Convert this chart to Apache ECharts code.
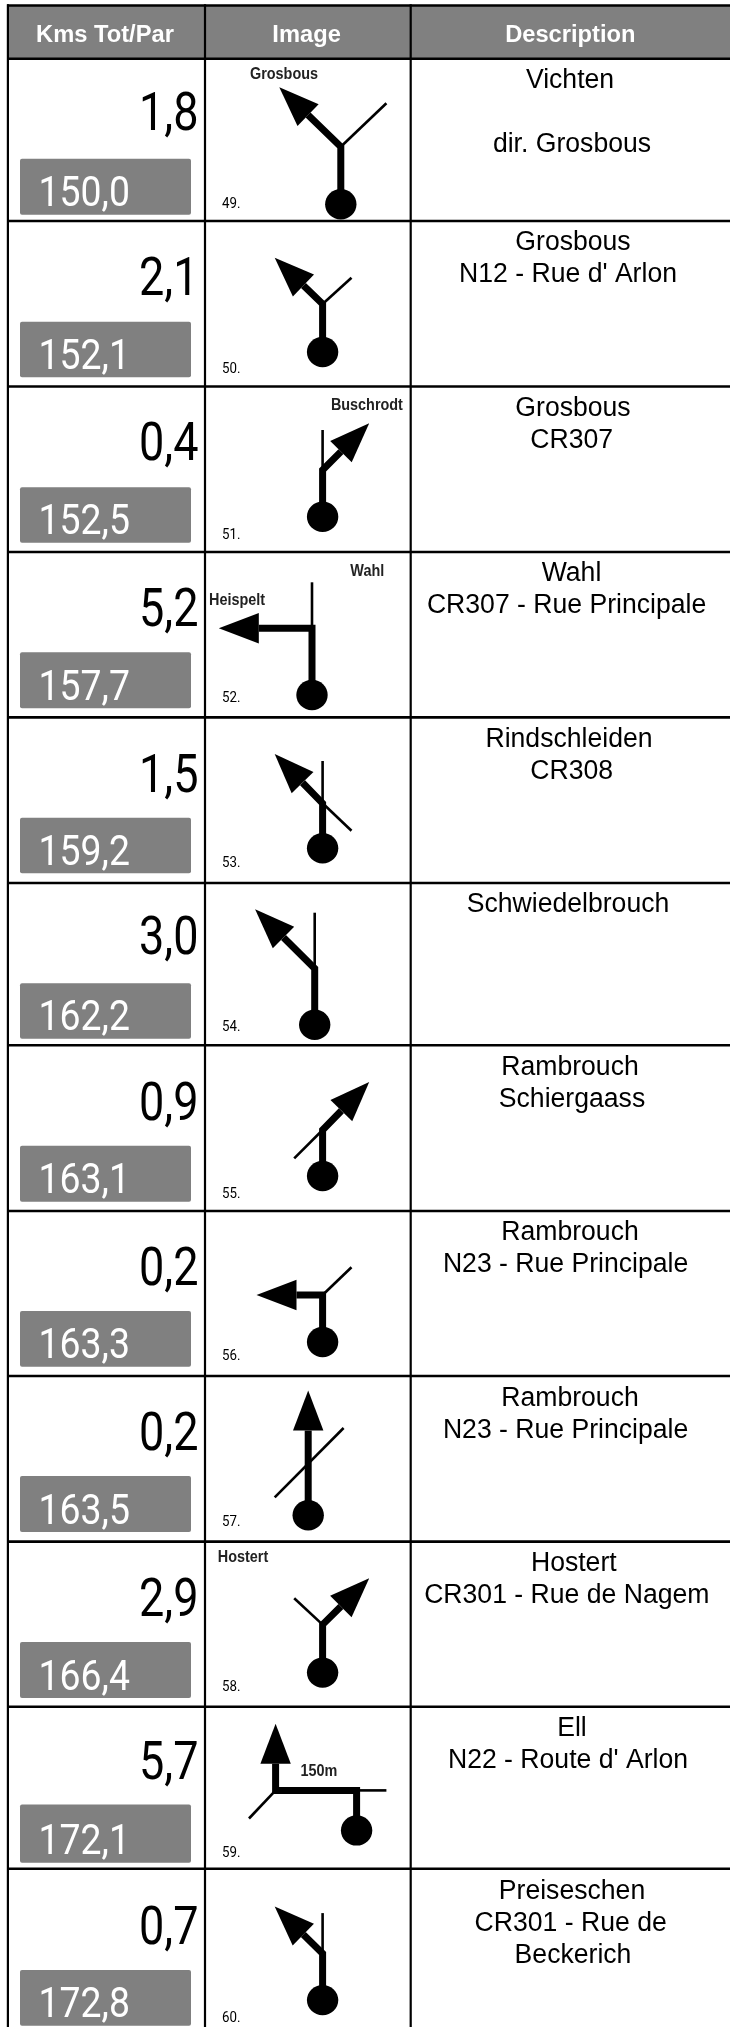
<!DOCTYPE html>
<html>
<head>
<meta charset="utf-8">
<style>html,body{margin:0;padding:0;background:#fff}#c{width:730px;height:2027px}</style>
<script src="https://cdn.jsdelivr.net/npm/echarts@6/dist/echarts.min.js"></script>
</head>
<body>
<div id="c"></div>
<script>
// ---- values ----
const headers = ['Kms Tot/Par', 'Image', 'Description'];
const kmPartial = [1.8, 2.1, 0.4, 5.2, 1.5, 3.0, 0.9, 0.2, 0.2, 2.9, 5.7, 0.7];
const kmTotal = [150.0, 152.1, 152.5, 157.7, 159.2, 162.2, 163.1, 163.3, 163.5, 166.4, 172.1, 172.8];
const imageNumbers = [49, 50, 51, 52, 53, 54, 55, 56, 57, 58, 59, 60];
const descriptions = [
  ['Vichten', '', 'dir. Grosbous'],
  ['Grosbous', "N12 - Rue d' Arlon"],
  ['Grosbous', 'CR307'],
  ['Wahl', 'CR307 - Rue Principale'],
  ['Rindschleiden', 'CR308'],
  ['Schwiedelbrouch'],
  ['Rambrouch', 'Schiergaass'],
  ['Rambrouch', 'N23 - Rue Principale'],
  ['Rambrouch', 'N23 - Rue Principale'],
  ['Hostert', 'CR301 - Rue de Nagem'],
  ['Ell', "N22 - Route d' Arlon"],
  ['Preiseschen', 'CR301 - Rue de', 'Beckerich']
];
const signTexts = ['Grosbous', 'Buschrodt', 'Wahl', 'Heispelt', 'Hostert', '150m'];

// ---- layout, in axis units ----
const columnEdges = [7.9, 205, 410.7];
const rowEdges = [5.5, 58.7, 221, 386.5, 552, 717.4, 883, 1045.3, 1211, 1376, 1541.6, 1706.7, 1868.7];
const partialBaselines = [128, 293.3, 458.3, 624, 790, 952.3, 1118.3, 1283.3, 1448.5, 1614, 1777.7, 1941.9];
const boxTops = [158.7, 321.7, 487.3, 652.3, 817.7, 983.3, 1145.7, 1311, 1476, 1642, 1804.5, 1970];
const boxBottoms = [214.7, 377.3, 542.7, 708.3, 873.3, 1038.7, 1201.7, 1366.7, 1532, 1698, 1862.8, 2025.7];
const numberBaselines = [208.3, 373, 539, 701.7, 866.7, 1031.3, 1197.7, 1360, 1526, 1691, 1856.8, 2021.8];
const descFirstCentres = [80.5, 243, 408.5, 573.5, 739.5, 904.5, 1067.5, 1232.5, 1398.5, 1563.5, 1728.5, 1891.5];
const descCentresX = [
  [570, 0, 572], [573, 568], [573, 571.7], [571.5, 566.6], [569, 571.7], [568],
  [570, 572], [570, 565.6], [570, 565.6], [573.8, 566.8], [572, 568], [572, 570.7, 573]
];
const signSpots = [[284, 75], [366.9, 406], [367.3, 572], [237, 601], [243, 1557.5], [318.9, 1772]];
const glyphs = [
  {dot:[340.8,204.3], path:[[0,-57.6],[-61.5,-117]], thin:[[[0,-57.6],[45.6,-101]]]},
  {dot:[322.6,352], path:[[0,-48],[-47.9,-94.3]], thin:[[[0,-48],[28.9,-74.3]]]},
  {dot:[322.6,516.7], path:[[0,-46.7],[46.6,-93.4]], thin:[[[0,-46.7],[0,-86.7]]]},
  {dot:[312,695], path:[[0,-66.7],[-93.2,-66.7]], thin:[[[0,-66.7],[0,-112.7]]]},
  {dot:[322.6,848.3], path:[[0,-45],[-47.9,-94.3]], thin:[[[0,-45],[0,-87.3]],[[0,-45],[28.9,-17.6]]]},
  {dot:[314.7,1024.7], path:[[0,-56.3],[-59.6,-115.4]], thin:[[[0,-56.3],[0,-112]]]},
  {dot:[322.6,1176], path:[[0,-46],[46.6,-94]], thin:[[[0,-46],[-28.4,-17.7]]]},
  {dot:[322.6,1342], path:[[0,-47],[-66.1,-47]], thin:[[[0,-47],[28.9,-74.7]]]},
  {dot:[308.2,1515.3], path:[[0,-124.7]], thin:[[[-33.5,-17.9],[35.4,-87.3]]]},
  {dot:[322.6,1672.6], path:[[0,-48],[46.6,-94.4]], thin:[[[0,-48],[-28.4,-74.4]]]},
  {dot:[356.6,1830.4], path:[[0,-40],[-81,-40],[-81,-106.7]], thin:[[[0,-40],[29.8,-40]],[[-81,-40],[-107.6,-11.9]]]},
  {dot:[322.6,2000.1], path:[[0,-46.7],[-47.9,-93.5]], thin:[[[0,-46.7],[0,-87]]]}
];

const GREY = '#808080';
const SANS = '"Liberation Sans", Arial, sans-serif';
const NUM = 'Roboto, sans-serif';
const fmt = v => v.toFixed(1).replace('.', ',');

function textEl(api, x, y, text, o) {
  const p = api.coord([x, y]);
  return {
    type: 'text', x: p[0], y: p[1], scaleX: o.scaleX || 1, silent: true,
    style: {
      x: 0, y: 0, text: text, fill: o.fill || '#000',
      font: (o.weight || 'normal') + ' ' + o.size + 'px ' + (o.family || SANS),
      align: o.align || 'center', verticalAlign: o.vAlign || 'middle'
    }
  };
}
function rectEl(api, x0, y0, x1, y1, fill, r) {
  const a = api.coord([x0, y0]), b = api.coord([x1, y1]);
  return { type: 'rect', silent: true, shape: {x: a[0], y: a[1], width: b[0]-a[0], height: b[1]-a[1], r: r || 0}, style: {fill: fill} };
}
function lineEl(api, pts, w) {
  return { type: 'polyline', silent: true,
    shape: {points: pts.map(q => api.coord(q))},
    style: {stroke: '#000', lineWidth: w, fill: null, lineJoin: 'miter', lineCap: 'butt'} };
}

// header band
const headerSeries = {
  type: 'custom', coordinateSystem: 'cartesian2d', data: [[0]], clip: false, z: 1,
  renderItem: (p, api) => {
    const xs = [105, 306.6, 570.3];
    return { type: 'group', children: [rectEl(api, 7, rowEdges[0], 730, rowEdges[1], GREY)].concat(
      headers.map((h, i) => textEl(api, xs[i], 36, h, {size: 23, weight: 'bold', fill: '#fff', scaleX: 1.03}))) };
  }
};
// partial km and total km box
const kmSeries = {
  type: 'custom', coordinateSystem: 'cartesian2d', data: kmPartial.map((v, i) => [i, v, kmTotal[i]]), z: 2, clip: false,
  renderItem: (p, api) => {
    const i = api.value(0);
    return { type: 'group', children: [
      textEl(api, 198.5, partialBaselines[i] - 11.5, fmt(api.value(1)), {size: 53, family: NUM, align: 'right', scaleX: 0.85}),
      rectEl(api, 20, boxTops[i], 191, boxBottoms[i], GREY, 2),
      textEl(api, 38.5, boxBottoms[i] - 19, fmt(api.value(2)), {size: 42, family: NUM, align: 'left', fill: '#fff', scaleX: 0.89})
    ] };
  }
};
// junction diagrams
const glyphSeries = {
  type: 'custom', coordinateSystem: 'cartesian2d', data: imageNumbers.map((n, i) => [i, n]), z: 3, clip: false,
  renderItem: (p, api) => {
    const i = api.value(0), g = glyphs[i];
    const abs = q => [g.dot[0] + q[0], g.dot[1] + q[1]];
    const pts = [[0, 0]].concat(g.path).map(abs);
    const tip = pts[pts.length - 1], prev = pts[pts.length - 2];
    const dx = tip[0]-prev[0], dy = tip[1]-prev[1], L = Math.hypot(dx, dy), ux = dx/L, uy = dy/L;
    const HL = 40, HW = 15.2;
    const base = [tip[0]-ux*HL, tip[1]-uy*HL];
    const shaft = pts.slice(0, -1).concat([base]);
    const c = api.coord(g.dot);
    const kids = g.thin.map(s => lineEl(api, s.map(abs), 2.6));
    kids.push(lineEl(api, shaft, 7));
    kids.push({ type: 'polygon', silent: true, shape: {points: [tip,
      [base[0]-uy*HW, base[1]+ux*HW], [base[0]+uy*HW, base[1]-ux*HW]].map(q => api.coord(q))}, style: {fill: '#000'} });
    kids.push({ type: 'ellipse', silent: true, shape: {cx: c[0], cy: c[1], rx: 15.7, ry: 15.2}, style: {fill: '#000'} });
    kids.push(textEl(api, 222, numberBaselines[i] - 3.5, api.value(1) + '.', {size: 14, family: NUM, align: 'left', scaleX: 0.95}));
    return { type: 'group', children: kids };
  }
};
// place names beside the diagrams
const signSeries = {
  type: 'custom', coordinateSystem: 'cartesian2d', data: signSpots, z: 4, clip: false,
  renderItem: (p, api) => textEl(api, api.value(0), api.value(1), signTexts[p.dataIndex],
    {size: 16, weight: 'bold', fill: '#222', scaleX: 0.9})
};
// description column
const descSeries = {
  type: 'custom', coordinateSystem: 'cartesian2d', data: descriptions.map((d, i) => [i]), z: 4, clip: false,
  renderItem: (p, api) => {
    const i = api.value(0);
    const kids = [];
    descriptions[i].forEach((line, j) => {
      if (line) kids.push(textEl(api, descCentresX[i][j], descFirstCentres[i] + j * 32, line, {size: 27, scaleX: 0.985}));
    });
    return { type: 'group', children: kids };
  }
};
// table rules
const ruleSeries = {
  type: 'custom', coordinateSystem: 'cartesian2d', data: [[0]], z: 5, clip: false,
  renderItem: (p, api) => {
    const kids = [];
    rowEdges.forEach(y => kids.push(lineEl(api, [[7, y], [730, y]], 2.6)));
    columnEdges.forEach(x => kids.push(lineEl(api, [[x, 4.2], [x, 2027]], 2.2)));
    return { type: 'group', children: kids };
  }
};

const chart = echarts.init(document.getElementById('c'), null, {renderer: 'canvas', width: 730, height: 2027});
chart.setOption({
  animation: false,
  backgroundColor: '#fff',
  grid: {left: 0, right: 0, top: 0, bottom: 0},
  xAxis: {type: 'value', min: 0, max: 730, show: false},
  yAxis: {type: 'value', min: 0, max: 2027, inverse: true, show: false},
  series: [headerSeries, kmSeries, glyphSeries, signSeries, descSeries, ruleSeries]
});
</script>
</body>
</html>
